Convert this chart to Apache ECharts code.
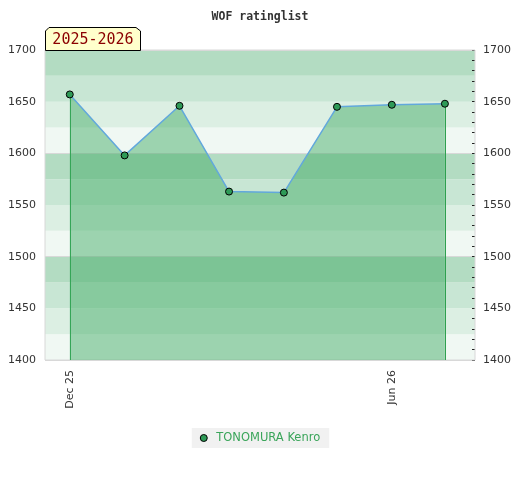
<!DOCTYPE html>
<html>
<head>
<meta charset="utf-8">
<script src="https://cdn.jsdelivr.net/npm/echarts@6/dist/echarts.min.js"></script>
<style>html,body{margin:0;padding:0;background:#fff}#c{width:520px;height:480px}</style>
</head>
<body>
<div id="c"></div>
<script>
var titleText = 'WOF ratinglist';
var seasonLabel = '2025-2026';
var playerName = 'TONOMURA Kenro';
var dates = ['2025-12-01','2026-01-01','2026-02-01','2026-03-01','2026-04-01','2026-05-01','2026-06-01','2026-07-01'];
var ratings = [1657, 1598, 1646, 1563, 1562, 1645, 1647, 1648];
var xMin = '2025-11-17', xMax = '2026-07-18';
var yMin = 1400, yMax = 1700;
var xTickDates = ['2025-12-01','2026-06-01'];
var monthNames = ['Jan','Feb','Mar','Apr','May','Jun','Jul','Aug','Sep','Oct','Nov','Dec'];

function ts(s){ var p = s.split('-'); return new Date(+p[0], +p[1]-1, +p[2]).getTime(); }

var chart = echarts.init(document.getElementById('c'));
var seriesData = dates.map(function(d,i){ return [ts(d), ratings[i]]; });
var last = dates.length - 1;
var yBase = {type:'value', min:yMin, max:yMax, gridIndex:0};
function ya(o){ return Object.assign({}, yBase, o); }
var DAY = 86400000;
var plain = function(v){ return String(v); };

chart.setOption({
  animation:false,
  title:{text:titleText, left:'center', top:6, textStyle:{fontFamily:'DejaVu Sans Mono', fontWeight:'bold', fontSize:11.5, color:'#333'}},
  grid:{left:45, right:45, top:50, bottom:120, show:true, borderColor:'#d8d8d8', borderWidth:1, backgroundColor:'transparent', z:3},
  legend:{data:[playerName], top:428, left:'center', backgroundColor:'#f1f1f1', padding:[4,9,4,8], icon:'circle', itemWidth:7, itemHeight:7, itemGap:8,
    textStyle:{color:'#3aa55a', fontFamily:'DejaVu Sans', fontSize:11.5, padding:[0,0,0,4]},
    itemStyle:{color:'#2e9a57', borderColor:'#000', borderWidth:1}},
  xAxis:{type:'time', min:ts(xMin), max:ts(xMax), minInterval:27*DAY, maxInterval:32*DAY, splitLine:{show:false}, axisLine:{show:false}, axisTick:{show:false},
    axisLabel:{rotate:90, color:'#333', fontFamily:'DejaVu Sans', fontSize:11, margin:10, hideOverlap:false,
      showMinLabel:false, showMaxLabel:false,
      formatter:function(v){ var d=new Date(v); var ok = xTickDates.some(function(s){return ts(s)===v;}); if(!ok) return ''; return monthNames[d.getMonth()]+' '+String(d.getFullYear()).slice(2); }}},
  yAxis:[
    ya({position:'left', interval:50, axisLine:{show:false}, axisTick:{show:false}, splitLine:{show:false},
      axisLabel:{color:'#333', fontFamily:'DejaVu Sans', fontSize:11, margin:9, formatter:plain}}),
    ya({position:'right', interval:50, axisLine:{show:false}, splitLine:{show:false},
      axisTick:{show:true, inside:true, length:3, lineStyle:{color:'#222'}},
      minorTick:{show:true, splitNumber:5, length:3, lineStyle:{color:'#222'}},
      axisLabel:{color:'#333', fontFamily:'DejaVu Sans', fontSize:11, margin:8, formatter:plain}}),
    ya({position:'left', interval:25, axisLine:{show:false}, axisTick:{show:false}, axisLabel:{show:false}, splitLine:{show:false},
      splitArea:{show:true, areaStyle:{color:['#f0f8f3','#dcefe3','#c8e6d4','#b3dcc2']}}}),
    ya({position:'left', interval:100, axisLine:{show:false}, axisTick:{show:false}, axisLabel:{show:false},
      splitLine:{show:true, lineStyle:{color:'#d8d8d8', width:1}}})
  ],
  graphic:[
    {type:'polygon', z:100, shape:{points:[[45.5,50.5],[45.5,31],[49,27.5],[136,27.5],[140.5,31],[140.5,50.5]]}, style:{fill:'#ffffcc', stroke:'#000', lineWidth:1}},
    {type:'text', z:101, x:93, y:40, style:{text:seasonLabel, font:'15px "DejaVu Sans Mono"', fill:'#8b0000', align:'center', verticalAlign:'middle'}}
  ],
  series:[{
    name:playerName, type:'line', yAxisIndex:0, data:seriesData,
    symbol:'circle', symbolSize:7, showSymbol:true,
    itemStyle:{color:'#2e9a57', borderColor:'#000', borderWidth:1},
    lineStyle:{color:'#62a8dc', width:1.5},
    areaStyle:{color:'#3daa62', opacity:0.47},
    z:5,
    markLine:{silent:true, symbol:'none', label:{show:false}, lineStyle:{color:'#2fa04f', width:1, type:'solid'},
      data:[
        [{coord:[seriesData[0][0], ratings[0]]},{coord:[seriesData[0][0], yMin]}],
        [{coord:[seriesData[last][0], ratings[last]]},{coord:[seriesData[last][0], yMin]}]
      ]}
  }]
});
</script>
</body>
</html>
